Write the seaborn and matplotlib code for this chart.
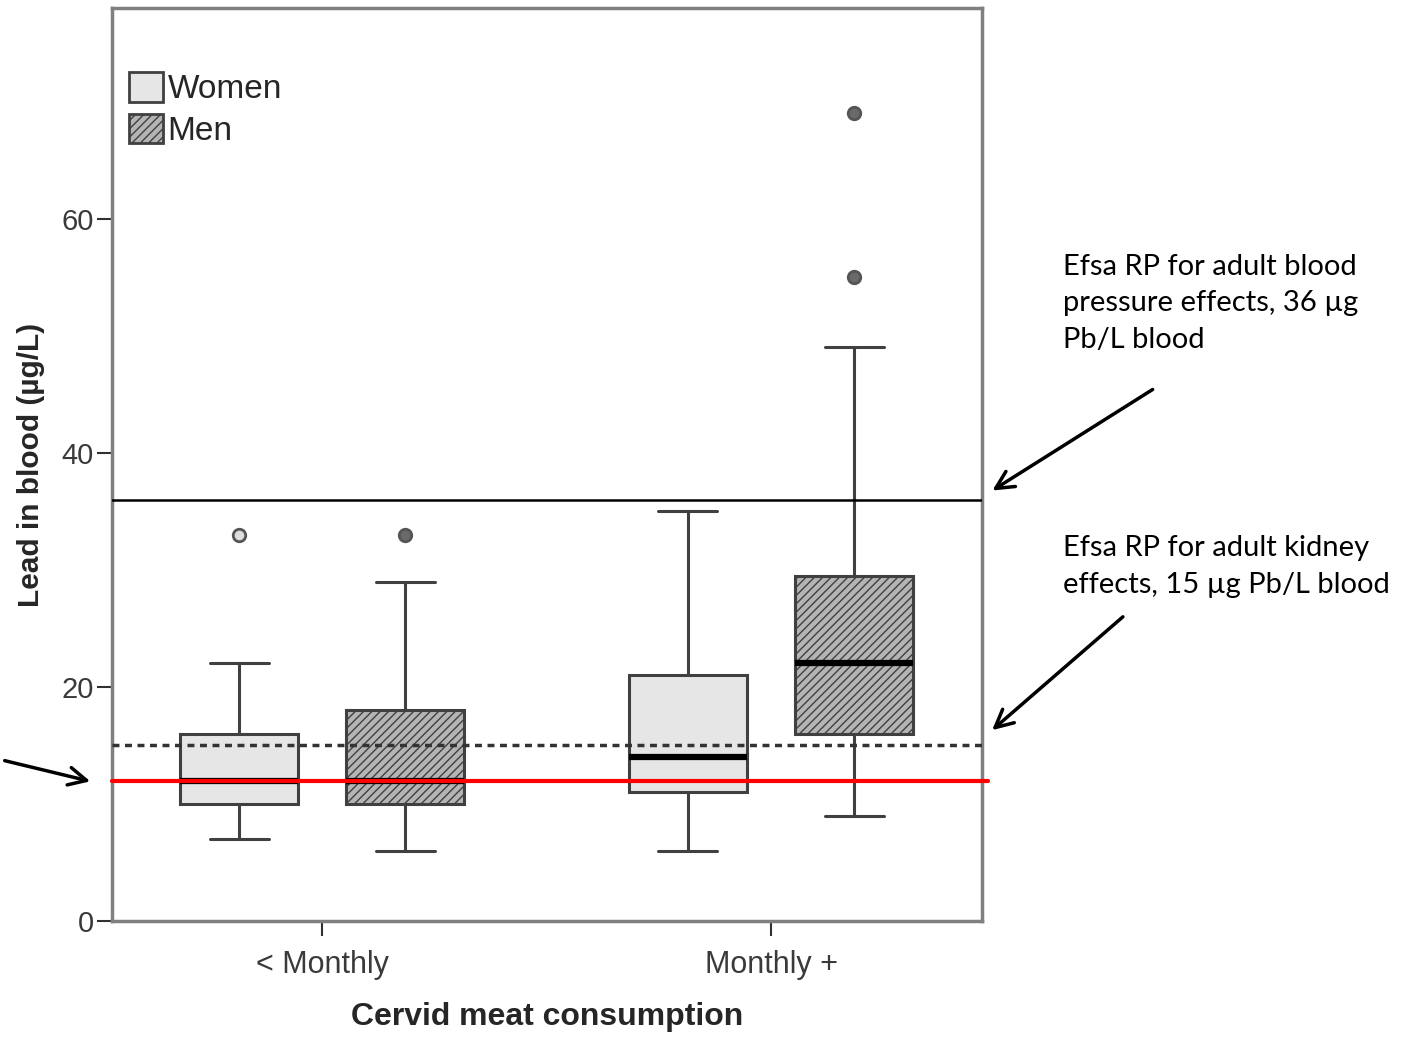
import pandas as pd
import matplotlib.pyplot as plt
import seaborn as sns
from matplotlib.patches import Patch

women_lt_monthly = [7, 10, 10, 12, 12, 16, 16, 22, 33]
men_lt_monthly = [6, 10, 10, 12, 12, 18, 18, 29, 33]
women_monthly = [6, 11, 11, 14, 14, 21, 21, 35, 35]
men_monthly = [9, 16, 16, 16, 22, 22, 22, 29.5, 29.5, 29.5, 49, 55, 69]

consumption = ["< Monthly", "Monthly +"]
sexes = ["Women", "Men"]

bp_limit = 36      # EFSA RP blood pressure
kidney_limit = 15  # EFSA RP kidney
red_level = 12

groups = [
    ("< Monthly", "Women", women_lt_monthly),
    ("< Monthly", "Men", men_lt_monthly),
    ("Monthly +", "Women", women_monthly),
    ("Monthly +", "Men", men_monthly),
]
rows = []
for cat, sex, vals in groups:
    for v in vals:
        rows.append({"consumption": cat, "sex": sex, "lead": v})
df = pd.DataFrame(rows)

sns.set_style("ticks")
plt.rcParams['font.family'] = ['Liberation Sans', 'DejaVu Sans']

W, H = 1405, 1037
fig = plt.figure(figsize=(W / 100, H / 100), dpi=100)
ax = fig.add_axes([112 / W, 1 - 921 / H, 870 / W, 913 / H])

edge = '#404040'
fills = {"Women": "#e6e6e6", "Men": "#b4b4b4"}
sns.boxplot(data=df, x="consumption", y="lead", hue="sex", order=consumption,
            hue_order=sexes, palette=fills, saturation=1, linecolor=edge,
            linewidth=2.2, width=0.74, gap=0.29, whis=1.5, legend=False, ax=ax,
            medianprops=dict(color='black', linewidth=4.5),
            flierprops=dict(marker='o', markersize=9, markeredgewidth=2))

for cont, sex in zip(ax.containers, sexes):
    for b in cont.boxes:
        b.set_edgecolor(edge)
        if sex == "Men":
            b.set_hatch("////")
    for fl in cont.fliers:
        fl.set_markeredgecolor('#555555')
        fl.set_markerfacecolor('#dddddd' if sex == "Women" else '#6a6a6a')

# reference lines
ax.axhline(bp_limit, color='black', lw=1.8, zorder=5)
ax.axhline(kidney_limit, color='#333333', lw=2.5, ls=(0, (2, 1.6)), zorder=5)
ax.axhline(red_level, xmin=0, xmax=1.007, color='red', lw=3, zorder=6, clip_on=False)

ax.set_xlim(-0.468, 1.470)
ax.set_ylim(0, 78)
ax.set_yticks([0, 20, 40, 60])
ax.set_xlabel("Cervid meat consumption", fontsize=23, fontweight='bold', labelpad=16)
ax.set_ylabel("Lead in blood (µg/L)", fontsize=21.5, fontweight='bold', labelpad=12)
ax.tick_params(direction='out', length=11, width=1.5, color='#303030',
               labelsize=21, labelcolor='#3a3a3a', pad=2)
ax.tick_params(axis='x', labelsize=22, pad=10)
for s in ax.spines.values():
    s.set_visible(True)
    s.set_color('#808080')
    s.set_linewidth(2.5)

handles = [Patch(facecolor=fills["Women"], edgecolor=edge, lw=2),
           Patch(facecolor=fills["Men"], edgecolor=edge, lw=2, hatch="////")]
ax.legend(handles, sexes, loc='upper left', bbox_to_anchor=(0.02, 0.93),
          frameon=False, fontsize=24, handlelength=1.0, handleheight=1.0,
          handletextpad=0.15, labelspacing=0.25, borderpad=0, borderaxespad=0)


def px(x, y):
    return (x / W, 1 - y / H)


note_font = dict(family=['Lato', 'DejaVu Sans'], fontsize=21, color='black',
                 va='top', ha='left', linespacing=1.5)
fig.text(*px(1063, 254), "Efsa RP for adult blood\npressure effects, 36 µg\nPb/L blood", **note_font)
fig.text(*px(1063, 535), "Efsa RP for adult kidney\neffects, 15 µg Pb/L blood", **note_font)

arrow = dict(arrowstyle='->', lw=2.5, color='black', mutation_scale=32)
for tail, head in [((1155, 388), (990, 492)), ((1125, 615), (990, 732)), ((2, 760), (93, 782))]:
    ax.annotate("", xy=px(*head), xytext=px(*tail), xycoords='figure fraction',
                textcoords='figure fraction', arrowprops=arrow, annotation_clip=False)

fig.savefig("out.png", dpi=100)
